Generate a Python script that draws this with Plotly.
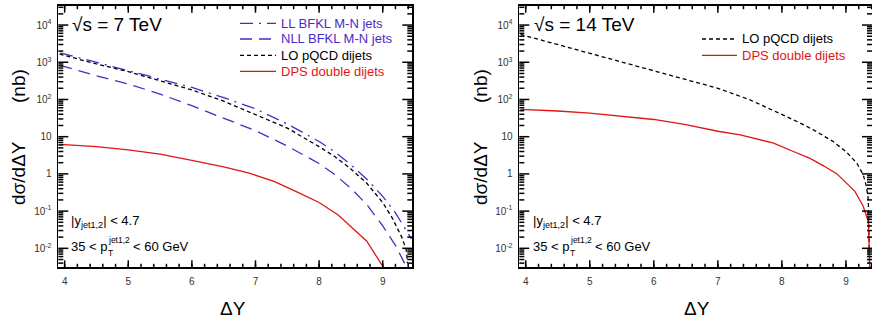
import math
import plotly.graph_objects as go

# ---------------- data ----------------
# Left panel: sqrt(s) = 7 TeV
ll7_x = [3.93, 4.5, 5.0, 5.5, 6.0, 6.5, 7.0, 7.5, 8.0, 8.25, 8.5, 8.75, 9.0, 9.2, 9.45]
ll7_y = [1800, 1000, 600, 360, 210, 112, 56, 22, 7.4, 3.9, 1.75, 0.72, 0.25, 0.09, 0.018]

nll7_x = [3.93, 4.5, 5.0, 5.5, 6.0, 6.5, 7.0, 7.5, 8.0, 8.25, 8.5, 8.75, 9.0, 9.2, 9.38]
nll7_y = [830, 430, 260, 140, 68, 32, 14.5, 5.6, 1.9, 0.95, 0.41, 0.15, 0.04, 0.012, 0.003]

lo7_x = [3.92, 4.5, 5.0, 5.5, 6.0, 6.5, 7.0, 7.5, 8.0, 8.25, 8.5, 8.75, 9.0, 9.15, 9.3, 9.37, 9.39]
lo7_y = [1660, 900, 560, 320, 180, 90, 40, 17, 5.4, 2.9, 1.35, 0.56, 0.17, 0.065, 0.02, 0.009, 0.004]

dps7_x = [3.93, 4.5, 5.0, 5.5, 6.0, 6.5, 6.9, 7.3, 7.7, 8.0, 8.3, 8.5, 8.75, 9.01]
dps7_y = [6.2, 5.4, 4.4, 3.4, 2.3, 1.55, 1.05, 0.62, 0.30, 0.17, 0.079, 0.039, 0.0155, 0.0031]

# Right panel: sqrt(s) = 14 TeV
lo14_x = [3.92, 4.5, 5.0, 5.5, 6.0, 6.5, 7.0, 7.5, 8.0, 8.25, 8.5, 8.8, 9.0, 9.17, 9.27, 9.32, 9.35, 9.37]
lo14_y = [5600, 3000, 1800, 1050, 590, 350, 200, 98, 40, 25, 15, 7.4, 4.0, 1.95, 0.95, 0.46, 0.2, 0.002]

dps14_x = [3.92, 4.5, 5.0, 5.5, 6.0, 6.5, 7.0, 7.35, 7.87, 8.18, 8.44, 8.65, 8.86, 9.14, 9.27, 9.35, 9.376]
dps14_y = [54, 49, 43, 36, 29, 21, 14, 11.2, 6.7, 4.0, 2.6, 1.65, 1.0, 0.34, 0.135, 0.052, 0.002]

ytick_vals = [0.01, 0.1, 1, 10, 100, 1000, 10000]
ytick_text = ["10<sup>-2</sup>", "10<sup>-1</sup>", "1", "10", "10<sup>2</sup>", "10<sup>3</sup>", "10<sup>4</sup>"]
xtick_vals = [4, 5, 6, 7, 8, 9]
xtick_text = ["4", "5", "6", "7", "8", "9"]
yminor_vals = [k * 10 ** e for e in range(-3, 5) for k in range(2, 10)]
xminor_vals = [round(3.8 + 0.2 * i, 1) for i in range(30)]

legend7 = ["LL BFKL M-N jets", "NLL BFKL M-N jets", "LO pQCD dijets", "DPS double dijets"]
legend14 = ["LO pQCD dijets", "DPS double dijets"]

# ---------------- styles / layout ----------------
W, H = 872, 327
FONT = "Liberation Sans, Arial, Helvetica, sans-serif"
PURPLE = "#4a2bc6"
RED = "#e01515"
BLACK = "#000000"
LW = 1.3
DASH_LL = "13px,6px,2px,6px"
DASH_NLL = "12px,7px"
DASH_LO = "4px,3px"

YR = [-2.51, 4.52]                    # log10 range of both y axes
TOP, BOT = 5.7, 267.3                 # plot box top / bottom (pixels)
PANELS = [  # (left px, right px, x range, x axis, y axis)
    (58.3, 412.3, [3.9, 9.465], "x", "y"),
    (519.3, 872.0, [3.9, 9.407], "x2", "y2"),
]


def px(x):
    return x / W


def py(y):
    return 1 - y / H


fig = go.Figure()


def add(x, y, color, dash, xa, ya):
    fig.add_trace(go.Scatter(x=x, y=y, mode="lines", xaxis=xa, yaxis=ya,
                             line=dict(color=color, width=LW, dash=dash),
                             showlegend=False, hoverinfo="skip"))


add(ll7_x, ll7_y, PURPLE, DASH_LL, "x", "y")
add(nll7_x, nll7_y, PURPLE, DASH_NLL, "x", "y")
add(lo7_x, lo7_y, BLACK, DASH_LO, "x", "y")
add(dps7_x, dps7_y, RED, "solid", "x", "y")
add(lo14_x, lo14_y, BLACK, DASH_LO, "x2", "y2")
add(dps14_x, dps14_y, RED, "solid", "x2", "y2")

axes = {}
for i, (x0, x1, xr, xa, ya) in enumerate(PANELS):
    sfx = "" if i == 0 else "2"
    axes["xaxis" + sfx] = dict(
        domain=[px(x0), min(1.0, px(x1))], range=xr, anchor=ya,
        tickmode="array", tickvals=xtick_vals, ticktext=xtick_text,
        ticks="", showline=True, linecolor="black", linewidth=1.8,
        mirror=True, showgrid=False, zeroline=False, ticklabelstandoff=4,
        tickfont=dict(family=FONT, size=10, color="#333"))
    axes["yaxis" + sfx] = dict(
        domain=[py(BOT), py(TOP)], type="log", range=YR, anchor=xa,
        tickmode="array", tickvals=ytick_vals, ticktext=ytick_text,
        ticks="", showline=True, linecolor="black", linewidth=1.8,
        mirror=True, showgrid=False, zeroline=False, ticklabelstandoff=3,
        tickfont=dict(family=FONT, size=10, color="#333"))

fig.update_layout(
    template="none",
    width=W, height=H, margin=dict(l=0, r=0, t=0, b=0),
    paper_bgcolor="white", plot_bgcolor="rgba(0,0,0,0)", showlegend=False,
    font=dict(family=FONT, color="black"),
    **axes,
)

ann = []
shapes = []


def seg(xa0, ya0, xa1, ya1, color="black", width=1.5, dash="solid"):
    shapes.append(dict(type="line", xref="paper", yref="paper", layer="above",
                       x0=px(xa0), x1=px(xa1), y0=py(ya0), y1=py(ya1),
                       line=dict(color=color, width=width, dash=dash)))


# ---- ROOT-style tick marks on all four sides of each panel ----
for (x0, x1, xr, xa, ya) in PANELS:
    def xpix(v):
        return x0 + (v - xr[0]) / (xr[1] - xr[0]) * (x1 - x0)

    def ypix(v):
        return BOT - (math.log10(v) - YR[0]) / (YR[1] - YR[0]) * (BOT - TOP)

    for vals, ln in ((xtick_vals, 7.0), (xminor_vals, 3.5)):
        for v in vals:
            if xr[0] < v < xr[1]:
                X = xpix(v)
                seg(X, BOT, X, BOT - ln)
                seg(X, TOP, X, TOP + ln)
    for vals, ln in ((ytick_vals, 10.0), (yminor_vals, 5.0)):
        for v in vals:
            if YR[0] < math.log10(v) < YR[1]:
                Y = ypix(v)
                seg(x0, Y, x0 + ln, Y)
                seg(x1, Y, x1 - ln, Y)


def text(x, y, s, size, color="black", xanchor="left", yanchor="middle", angle=0):
    ann.append(dict(x=px(x), y=py(y), xref="paper", yref="paper", text=s,
                    showarrow=False, xanchor=xanchor, yanchor=yanchor,
                    textangle=angle,
                    font=dict(family=FONT, size=size, color=color)))


# --- left panel texts ---
text(70, 24, "√s = 7 TeV", 19)
leg7_style = [(PURPLE, DASH_LL), (PURPLE, DASH_NLL), (BLACK, DASH_LO), (RED, "solid")]
leg7_y = [23.3, 39.0, 55.3, 71.3]
for name, (c, d), yy in zip(legend7, leg7_style, leg7_y):
    seg(240, yy, 276, yy, color=c, width=LW, dash=d)
    text(279, yy, name, 13, color=c)

# --- right panel texts ---
text(532, 24, "√s = 14 TeV", 19)
leg14_style = [(BLACK, DASH_LO), (RED, "solid")]
leg14_y = [39.0, 55.3]
for name, (c, d), yy in zip(legend14, leg14_style, leg14_y):
    seg(702, yy, 737, yy, color=c, width=LW, dash=d)
    text(740, yy, name, 13, color=c)

# --- cut annotations, both panels ---
for x0 in (69, 531):
    text(x0, 221, "|y<sub>jet1,2</sub>| &lt; 4.7", 13)
    text(x0, 247, "35 &lt; p", 13)
    text(x0 + 36.5, 252.5, "T", 8.5)
    text(x0 + 36.5, 239.5, "jet1,2", 8.5)
    text(x0 + 62, 247, "&lt; 60 GeV", 13)

# --- axis titles ---
for xc in (233, 697):
    text(xc, 308, "ΔY", 19, xanchor="center")
for xc in (18, 480):
    text(xc, 173, "dσ/dΔY", 19, xanchor="center", angle=-90)
    text(xc, 86, "(nb)", 19, xanchor="center", angle=-90)

fig.update_layout(annotations=ann, shapes=shapes)
fig.write_html("out.html",
               config={"staticPlot": True, "displayModeBar": False},
               post_script="document.body.style.margin='0';document.body.style.overflow='hidden';")
